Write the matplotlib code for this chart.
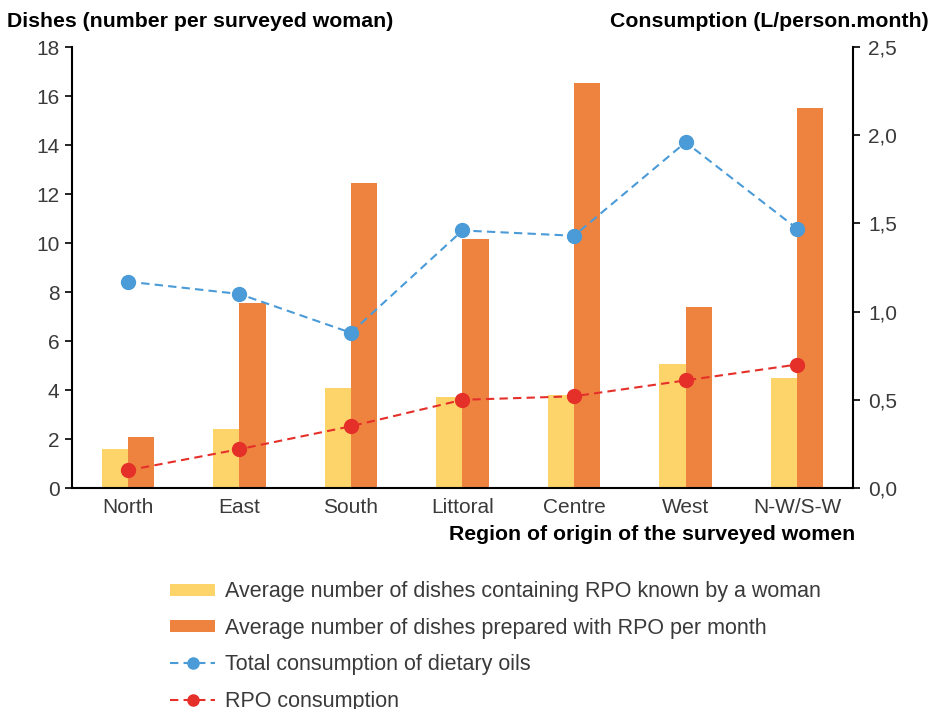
import matplotlib
matplotlib.use("Agg")
import matplotlib.pyplot as plt
import numpy as np
from matplotlib.ticker import FuncFormatter, MultipleLocator

plt.rcParams['font.family'] = ['Liberation Sans', 'DejaVu Sans']

regions = ["North", "East", "South", "Littoral", "Centre", "West", "N-W/S-W"]
dishes_known = [1.6, 2.4, 4.1, 3.7, 3.8, 5.05, 4.5]
dishes_prepared = [2.1, 7.55, 12.45, 10.15, 16.55, 7.4, 15.5]
total_oil = [1.17, 1.10, 0.88, 1.46, 1.43, 1.96, 1.47]
rpo_cons = [0.10, 0.22, 0.35, 0.50, 0.52, 0.61, 0.70]

c_yellow = "#FDD46A"
c_orange = "#EE8340"
c_blue = "#4A9BD7"
c_red = "#E5302A"
txt = "#3a3a3a"

fig = plt.figure(figsize=(9.37, 7.09), dpi=100)
ax = fig.add_axes([0.0768, 0.3117, 0.8335, 0.622])
x = np.arange(len(regions))
w = 0.235
b1 = ax.bar(x - w/2, dishes_known, w, color=c_yellow, label="Average number of dishes containing RPO known by a woman")
b2 = ax.bar(x + w/2, dishes_prepared, w, color=c_orange, label="Average number of dishes prepared with RPO per month")
ax.set_ylim(0, 18)
ax.set_xlim(-0.5, len(regions) - 0.5)
ax.yaxis.set_major_locator(MultipleLocator(2))
ax.set_xticks(x)
ax.set_xticklabels(regions)
ax.tick_params(axis='x', length=0, pad=7, labelsize=15, labelcolor=txt)
ax.tick_params(axis='y', length=5, width=1.2, direction='out', labelsize=15, labelcolor=txt, pad=4)
for s in ['top', 'right']:
    ax.spines[s].set_visible(False)
ax.spines['left'].set_linewidth(1.5)
ax.spines['bottom'].set_linewidth(1.5)

ax2 = ax.twinx()
l1, = ax2.plot(x, total_oil, linestyle=(0, (4, 2.5)), color=c_blue, lw=1.5, marker='o', ms=10, label="Total consumption of dietary oils")
l2, = ax2.plot(x, rpo_cons, linestyle=(0, (4, 2.5)), color=c_red, lw=1.5, marker='o', ms=10, label="RPO consumption")
ax2.set_ylim(0, 2.5)
ax2.yaxis.set_major_locator(MultipleLocator(0.5))
ax2.yaxis.set_major_formatter(FuncFormatter(lambda v, p: f"{v:.1f}".replace('.', ',')))
ax2.tick_params(axis='y', length=5, width=1.2, direction='out', labelsize=15, labelcolor=txt, pad=6)
for s in ['top', 'left', 'bottom']:
    ax2.spines[s].set_visible(False)
ax2.spines['right'].set_linewidth(1.5)

fig.text(0.008, 0.970, "Dishes (number per surveyed woman)", fontsize=15.3, fontweight='bold', ha='left', va='center')
fig.text(0.991, 0.970, "Consumption (L/person.month)", fontsize=15.3, fontweight='bold', ha='right', va='center')
fig.text(0.913, 0.246, "Region of origin of the surveyed women", fontsize=15.3, fontweight='bold', ha='right', va='center')

leg = fig.legend(handles=[b1, b2, l1, l2], loc='upper left', bbox_to_anchor=(0.1814, 0.180), frameon=False,
                 fontsize=15.5, handlelength=2.1, handleheight=0.5, labelspacing=0.72, handletextpad=0.45,
                 borderpad=0, borderaxespad=0, labelcolor=txt, markerscale=0.8)

fig.savefig("out.png", dpi=100)
